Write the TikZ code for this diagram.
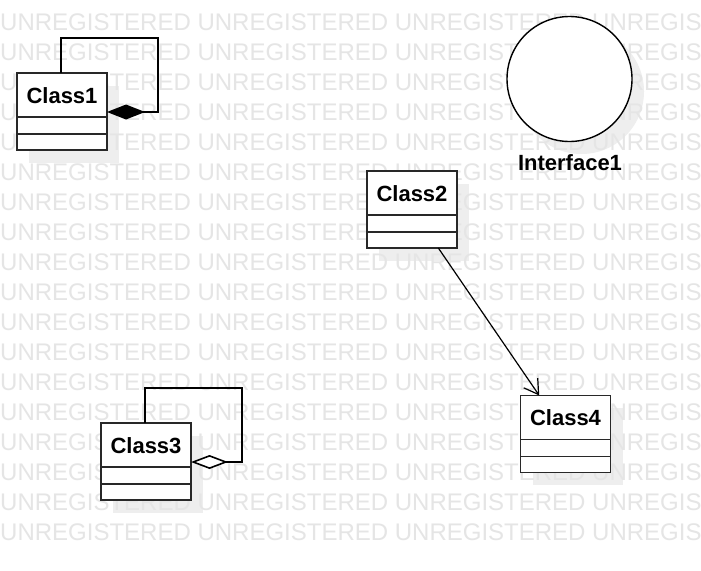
\documentclass[tikz,border=0pt]{standalone}
\usepackage{fontspec}
\setmainfont{Liberation Sans}
\usetikzlibrary{arrows.meta,calc}
\definecolor{wmark}{RGB}{229,229,229}
\definecolor{shadowc}{RGB}{238,238,238}
\definecolor{edge}{RGB}{40,40,40}
\begin{document}
\begin{tikzpicture}[x=1pt,y=-1pt,
  classbox/.style={draw=edge, line width=1.6pt, fill=white, minimum width=90pt, minimum height=77pt, inner sep=0pt, outer sep=0pt},
  shadowbox/.style={fill=shadowc, draw=none, minimum width=90pt, minimum height=77pt, inner sep=0pt},
  classname/.style={font=\fontsize{22}{26}\selectfont\bfseries, inner sep=0pt, anchor=base},
  sepline/.style={draw=edge, line width=1.6pt},
  loopline/.style={draw=black, line width=1.6pt},
  wm/.style={font=\fontsize{24}{28}\selectfont, text=wmark, inner sep=0pt, anchor=base west}
]
\useasboundingbox (0,0) rectangle (701,570);
\fill[white] (0,0) rectangle (701,570);
% shadows
\node[shadowbox] (s1) at (74,124) {};
\node[shadowbox] (s2) at (424,222) {};
\node[shadowbox] (s3) at (158,474) {};
\node[shadowbox] (s4) at (577.5,446.5) {};
\node[circle, fill=shadowc, minimum size=125pt, inner sep=0pt] (si) at (581.5,91.5) {};
% watermark
\begin{scope}
\clip (0,0) rectangle (701,570);
\foreach \k in {0,...,17}
  \node[wm] (wm\k) at (0,{30.5+30*\k}) {UNREGISTERED UNREGISTERED UNREGISTERED UNREGISTERED};
\end{scope}
% classes
\node[classbox] (c1) at (62,111.5) {};
\node[classbox] (c2) at (412,209.5) {};
\node[classbox] (c3) at (146,461.5) {};
\node[classbox] (c4) at (565.5,434) {};
\foreach \c in {c1,c2,c3,c4} {
  \draw[sepline] ($(\c.north west)+(0,44)$) -- ($(\c.north east)+(0,44)$);
  \draw[sepline] ($(\c.north west)+(0,61)$) -- ($(\c.north east)+(0,61)$);
}
\node[classname] (n1) at ($(c1.north)+(0,30)$) {Class1};
\node[classname] (n2) at ($(c2.north)+(0,30)$) {Class2};
\node[classname] (n3) at ($(c3.north)+(0,30)$) {Class3};
\node[classname] (n4) at ($(c4.north)+(0,30)$) {Class4};
% interface
\node[circle, draw=black, line width=1.4pt, fill=white, minimum size=125pt, inner sep=0pt] (i1) at (569.5,79) {};
\node[classname] (il) at (570,170) {Interface1};
% self loops
\draw[loopline, {Diamond[length=38pt,width=15pt]}-] (c1.east |- 0,112) -- (158,112) -- (158,38) -- (61,38) -- (c1.north -| 61,0);
\draw[loopline, {Diamond[length=37pt,width=14pt,fill=white]}-] (c3.east |- 0,462) -- (242,462) -- (242,388) -- (145,388) -- (c3.north -| 145,0);
% association
\draw[line width=1.2pt, -{Straight Barb[length=14pt,width=17pt]}] (c2) -- (c4);
\end{tikzpicture}
\end{document}
